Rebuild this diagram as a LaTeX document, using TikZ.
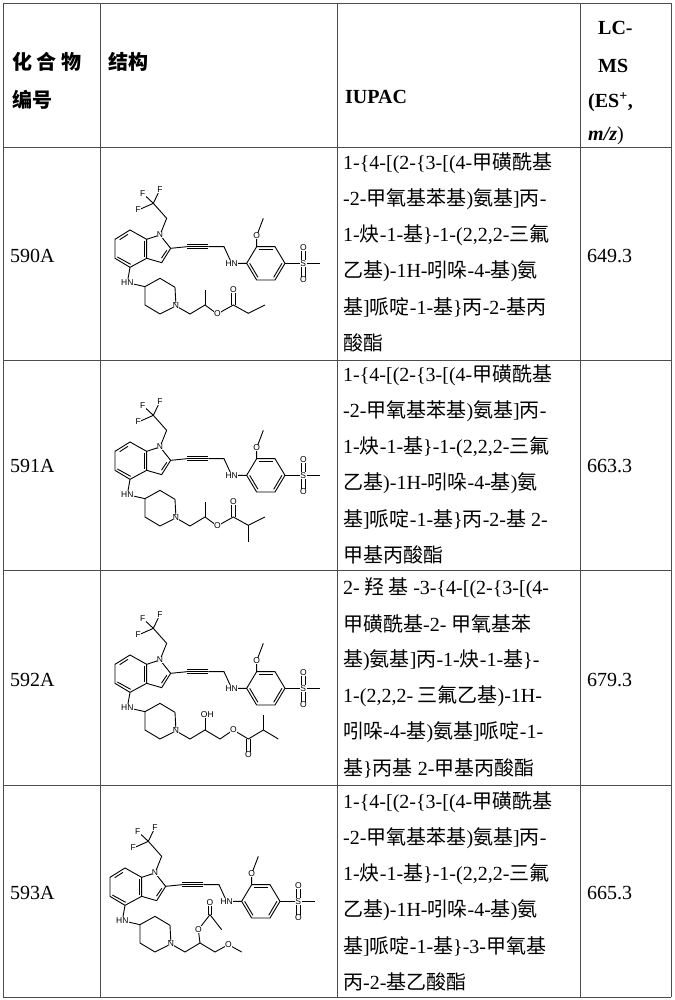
\documentclass[tikz,border=0pt]{standalone}
\usepackage{fontspec}
\setmainfont{Liberation Serif}
\newfontfamily\cjk{Noto Sans CJK SC}
\newfontfamily\chemf{Liberation Sans}
\newcommand\zh[1]{{\cjk #1}}
\usetikzlibrary{calc}
\begin{document}
\begin{tikzpicture}[x=1pt,y=-1pt,
 grid/.style={draw=black!70,line width=0.6pt},
 txt/.style={anchor=west,inner sep=0,font=\fontsize{20}{20}\selectfont},
 bond/.style={line width=0.9pt},
 atom/.style={fill=white,inner sep=0.4pt,font=\chemf\fontsize{8.5}{8.5}\selectfont}]
\useasboundingbox (0,0) rectangle (674,1000);
\fill[white] (0,0) rectangle (674,1000);
% grid
\foreach \yy in {3,147,360,570,785,997} \draw[grid] (3,\yy) -- (671,\yy);
\foreach \xx in {3,100,337,580,671} \draw[grid] (\xx,3) -- (\xx,997);
% header
\node[txt] (h1) at (12,62) {\textbf{\zh{化 合 物}}};
\node[txt] (h2) at (12,100) {\textbf{\zh{编号}}};
\node[txt] (h3) at (108,62) {\textbf{\zh{结构}}};
\node[txt] (h4) at (345,97) {\textbf{IUPAC}};
\node[txt] (h5) at (598,28) {\textbf{LC-}};
\node[txt] (h6) at (598,66) {\textbf{MS}};
\node[txt] (h7) at (588,102) {\textbf{(ES\textsuperscript{+},}};
\node[txt] (h8) at (588,136) {\textbf{\textit{m/z}})};
% ids
\node[txt] (i1) at (10,256) {590A}; \node[txt] (m1) at (587,256) {649.3};
\node[txt] (i2) at (10,466) {591A}; \node[txt] (m2) at (587,466) {663.3};
\node[txt] (i3) at (10,680) {592A}; \node[txt] (m3) at (587,680) {679.3};
\node[txt] (i4) at (10,893) {593A}; \node[txt] (m4) at (587,893) {665.3};
% IUPAC
\foreach \t [count=\k] in {
 {1-\{4-[(2-\{3-[(4-\zh{甲磺酰基}},
 {-2-\zh{甲氧基苯基})\zh{氨基}]\zh{丙}-},
 {1-\zh{炔}-1-\zh{基}\}-1-(2,2,2-\zh{三氟}},
 {\zh{乙基})-1H-\zh{吲哚}-4-\zh{基})\zh{氨}},
 {\zh{基}]\zh{哌啶}-1-\zh{基}\}\zh{丙}-2-\zh{基丙}},
 {\zh{酸酯}}}
 \node[txt] (a\k) at (343,127+36*\k) {\t};
\foreach \t [count=\k] in {
 {1-\{4-[(2-\{3-[(4-\zh{甲磺酰基}},
 {-2-\zh{甲氧基苯基})\zh{氨基}]\zh{丙}-},
 {1-\zh{炔}-1-\zh{基}\}-1-(2,2,2-\zh{三氟}},
 {\zh{乙基})-1H-\zh{吲哚}-4-\zh{基})\zh{氨}},
 {\zh{基}]\zh{哌啶}-1-\zh{基}\}\zh{丙}-2-\zh{基} 2-},
 {\zh{甲基丙酸酯}}}
 \node[txt] (b\k) at (343,339+36*\k) {\t};
\foreach \t [count=\k] in {
 {2-\zh{ 羟 基 }-3-\{4-[(2-\{3-[(4-},
 {\zh{甲磺酰基}-2-\zh{ 甲氧基苯}},
 {\zh{基})\zh{氨基}]\zh{丙}-1-\zh{炔}-1-\zh{基}\}-},
 {1-(2,2,2-\zh{ 三氟乙基})-1H-},
 {\zh{吲哚}-4-\zh{基})\zh{氨基}]\zh{哌啶}-1-},
 {\zh{基}\}\zh{丙基} 2-\zh{甲基丙酸酯}}}
 \node[txt] (c\k) at (343,552+36*\k) {\t};
\foreach \t [count=\k] in {
 {1-\{4-[(2-\{3-[(4-\zh{甲磺酰基}},
 {-2-\zh{甲氧基苯基})\zh{氨基}]\zh{丙}-},
 {1-\zh{炔}-1-\zh{基}\}-1-(2,2,2-\zh{三氟}},
 {\zh{乙基})-1H-\zh{吲哚}-4-\zh{基})\zh{氨}},
 {\zh{基}]\zh{哌啶}-1-\zh{基}\}-3-\zh{甲氧基}},
 {\zh{丙}-2-\zh{基乙酸酯}}}
 \node[txt] (d\k) at (343,766+36*\k) {\t};
% molecule core
\newcommand\molcore{%
 \coordinate (b1) at (90,240); \coordinate (b2) at (140,268); \coordinate (b3) at (140,325);
 \coordinate (b4) at (90,352); \coordinate (b5) at (45,325); \coordinate (b6) at (45,268);
 \coordinate (n1) at (180,255); \coordinate (c2) at (212,295); \coordinate (c3) at (185,338);
 \coordinate (k1) at (200,205); \coordinate (cf) at (160,160);
 \coordinate (al1) at (262,290); \coordinate (al2) at (325,290); \coordinate (k2) at (372,290);
 \coordinate (nh) at (395,340);
 \coordinate (r1) at (440,340); \coordinate (r2) at (470,290); \coordinate (r3) at (525,290);
 \coordinate (r4) at (555,340); \coordinate (r5) at (525,390); \coordinate (r6) at (470,390);
 \coordinate (om) at (470,258); \coordinate (me) at (490,205);
 \coordinate (s) at (610,340); \coordinate (os1) at (610,292); \coordinate (os2) at (610,390); \coordinate (sme) at (660,340);
 \coordinate (nha) at (82,398); \coordinate (p4) at (135,410); \coordinate (p3) at (180,385);
 \coordinate (p2) at (225,412); \coordinate (pn) at (228,468); \coordinate (p6) at (180,492); \coordinate (p5) at (135,465);
 \draw[bond] (b1)--(b2)--(b3)--(b4)--(b5)--(b6)--cycle;
 \draw[bond] ($(b1)!0.18!(b6)+(2,8)$) -- ($(b6)!0.18!(b1)+(6,6)$);
 \draw[bond] ($(b2)+(-7,5)$) -- ($(b3)+(-7,-5)$);
 \draw[bond] ($(b4)+(2,-9)$) -- ($(b5)+(7,-4)$);
 \draw[bond] (b2)--(n1)--(c2)--(c3)--(b3);
 \draw[bond] ($(c2)!0.2!(c3)+(-6,-3)$) -- ($(c3)!0.2!(c2)+(-6,-5)$);
 \draw[bond] (n1)--(k1)--(cf);
 \draw[bond] (cf)--(128,130); \draw[bond] (cf)--(180,118); \draw[bond] (cf)--(115,180);
 \draw[bond] (c2)--(al1); \draw[bond] (al1)--(al2);
 \draw[bond] ($(al1)+(0,-6)$)--($(al2)+(0,-6)$); \draw[bond] ($(al1)+(0,6)$)--($(al2)+(0,6)$);
 \draw[bond] (al2)--(k2)--(nh)--(r1);
 \draw[bond] (r1)--(r2)--(r3)--(r4)--(r5)--(r6)--cycle;
 \draw[bond] ($(r2)+(7,7)$)--($(r3)+(-7,7)$);
 \draw[bond] ($(r4)+(-9,0)$)--($(r5)+(-4,-8)$);
 \draw[bond] ($(r6)+(4,-8)$)--($(r1)+(9,0)$);
 \draw[bond] (r2)--(om)--(me);
 \draw[bond] (r4)--(s)--(sme);
 \draw[bond] ($(s)+(-5,0)$)--($(os1)+(-5,0)$); \draw[bond] ($(s)+(5,0)$)--($(os1)+(5,0)$);
 \draw[bond] ($(s)+(-5,0)$)--($(os2)+(-5,0)$); \draw[bond] ($(s)+(5,0)$)--($(os2)+(5,0)$);
 \draw[bond] (b4)--(nha)--(p4)--(p3)--(p2)--(pn)--(p6)--(p5)--(p4);
 \node[atom] (an1) at (n1) {N};
 \node[atom] (af1) at (128,130) {F}; \node[atom] (af2) at (180,118) {F}; \node[atom] (af3) at (115,180) {F};
 \node[atom] (anh) at (nh) {HN};
 \node[atom] (aom) at (om) {O};
 \node[atom] (as) at (s) {S}; \node[atom] (aos1) at (os1) {O}; \node[atom] (aos2) at (os2) {O};
 \node[atom] (anha) at (nha) {HN};
 \node[atom] (apn) at (pn) {N};
}
% row 1
\begin{scope}[shift={(100,150)},x=0.3333pt,y=-0.3333pt]
 \molcore
 \draw[bond] (pn)--(270,492)--(315,465)--(352,492)--(400,465)--(445,490)--(495,465);
 \draw[bond] (315,465)--(315,420);
 \draw[bond] (395,465)--(395,420); \draw[bond] (405,465)--(405,420);
 \node[atom] (o1) at (352,492) {O}; \node[atom] (o2) at (400,420) {O};
 \node[atom] (apnb) at (pn) {N};
\end{scope}
% row 2
\begin{scope}[shift={(100,362)},x=0.3333pt,y=-0.3333pt]
 \molcore
 \draw[bond] (pn)--(270,492)--(315,465)--(352,492)--(400,465)--(445,490)--(495,465);
 \draw[bond] (445,490)--(445,540);
 \draw[bond] (315,465)--(315,420);
 \draw[bond] (395,465)--(395,420); \draw[bond] (405,465)--(405,420);
 \node[atom] (o3) at (352,492) {O}; \node[atom] (o4) at (400,420) {O};
 \node[atom] (apnc) at (pn) {N};
\end{scope}
% row 3
\begin{scope}[shift={(100,575)},x=0.3333pt,y=-0.3333pt]
 \molcore
 \draw[bond] (pn)--(270,492)--(315,465)--(360,492)--(400,465)--(445,492)--(490,465)--(535,492);
 \draw[bond] (490,465)--(490,420);
 \draw[bond] (315,465)--(315,420);
 \draw[bond] (440,492)--(440,540); \draw[bond] (450,492)--(450,540);
 \node[atom] (o5) at (400,465) {O}; \node[atom] (o6) at (445,540) {O};
 \node[atom] (oh) at (322,420) {OH};
 \node[atom] (apnd) at (pn) {N};
\end{scope}
% row 4
\begin{scope}[shift={(95,788)},x=0.3333pt,y=-0.3333pt]
 \molcore
 \draw[bond] (pn)--(270,492)--(315,465)--(360,492)--(400,470)--(440,492);
 \draw[bond] (315,465)--(310,425)--(345,380)--(380,425);
 \draw[bond] (340,380)--(340,345); \draw[bond] (350,380)--(350,345);
 \node[atom] (o7) at (310,425) {O}; \node[atom] (o8) at (345,345) {O};
 \node[atom] (o9) at (400,470) {O};
 \node[atom] (apne) at (pn) {N};
\end{scope}
\end{tikzpicture}
\end{document}
